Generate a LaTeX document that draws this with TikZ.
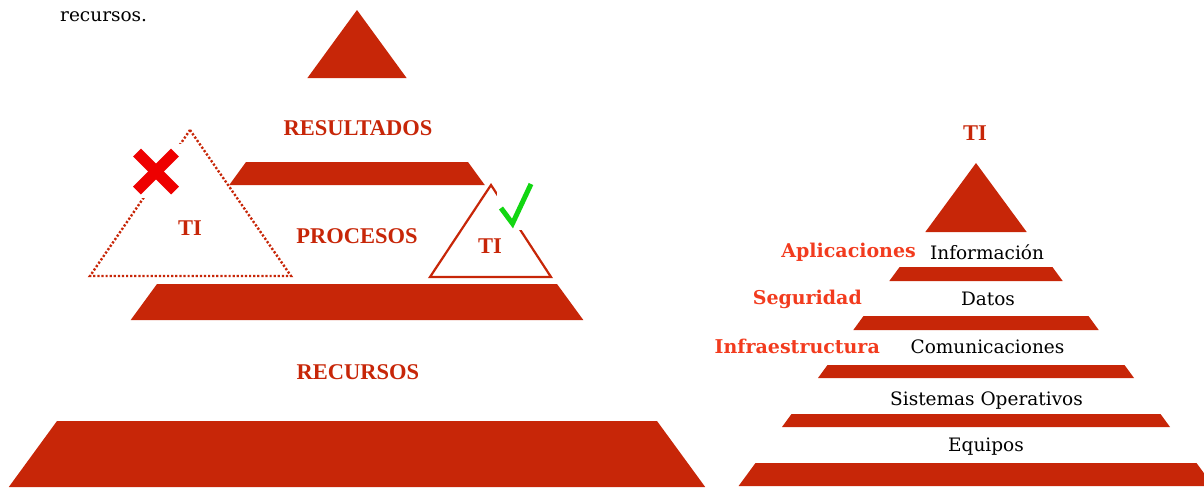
\documentclass[tikz,border=0pt]{standalone}
\usepackage{fontspec}
\setmainfont{DejaVu Serif}
\newfontfamily\libser{Liberation Serif}
\definecolor{dred}{HTML}{C72608}
\definecolor{lred}{HTML}{F23B1E}
\definecolor{xred}{HTML}{EE0000}
\definecolor{ckgreen}{HTML}{12D612}
\tikzset{
  band/.style={fill=dred},
  lbl/.style={font=\libser\bfseries\fontsize{22.5}{26}\selectfont, text=dred, inner sep=0pt, anchor=base},
  rlbl/.style={font=\bfseries\fontsize{19}{22}\selectfont, text=lred, inner sep=0pt, anchor=base east},
  blk/.style={font=\fontsize{18.5}{22}\selectfont, text=black, inner sep=0pt, anchor=base},
}
\begin{document}
\begin{tikzpicture}[x=1pt,y=-1pt]
\useasboundingbox (0,0) rectangle (1204,488);
% intro text fragment
\node[font=\fontsize{18.5}{22}\selectfont, inner sep=0pt, anchor=base west] (intro) at (60,21) {recursos.};
% ---------- left pyramid ----------
\fill[band] (357,10) -- (406.6,78) -- (307.4,78) -- cycle;
\fill[band] (246,162) -- (468,162) -- (484.75,185) -- (229.25,185) -- cycle;
\fill[band] (157,284) -- (557,284) -- (583.3,320) -- (130.7,320) -- cycle;
\fill[band] (57,421) -- (657,421) -- (705.2,487) -- (8.8,487) -- cycle;
\node[lbl] (res) at (358,135) {RESULTADOS};
\node[lbl] (proc) at (357,243) {PROCESOS};
\node[lbl] (recu) at (358,379) {RECURSOS};
% dotted TI triangle
\draw[dred, line width=2.4pt, dash pattern=on 2.2pt off 1.9pt] (190,130) -- (291,276) -- (90,276) -- cycle;
\node[lbl] (ti1) at (190,235) {TI};
% cross with white backing
\fill[white] (130,144) rectangle (183,198);
\draw[xred, line width=11pt] (137,152.5) -- (175,190.5);
\draw[xred, line width=11pt] (175,152.5) -- (137,190.5);
% solid TI triangle
\draw[dred, line width=2.2pt, line join=miter] (491,185) -- (551,277) -- (430,277) -- cycle;
\node[lbl] (ti2) at (490,253) {TI};
% check mark with white backing
\fill[white] (496.5,189) rectangle (538,230);
\draw[ckgreen, line width=5pt, line join=miter] (501,208) -- (512.5,223.5) -- (531,184);
% ---------- right pyramid ----------
\node[lbl] (ti3) at (975,140) {TI};
\fill[band] (976,163) -- (1026.7,232) -- (925.3,232) -- cycle;
\fill[band] (899.6,267) -- (1052.4,267) -- (1062.7,281) -- (889.3,281) -- cycle;
\fill[band] (863.5,316) -- (1088.5,316) -- (1098.7,330) -- (853.3,330) -- cycle;
\fill[band] (827.5,365) -- (1124.5,365) -- (1134,378) -- (818,378) -- cycle;
\fill[band] (791.5,414) -- (1160.5,414) -- (1170,427) -- (782,427) -- cycle;
\fill[band] (755.5,463) -- (1196.5,463) -- (1213.4,486) -- (738.6,486) -- cycle;
\node[blk] (info) at (987,259) {Información};
\node[blk] (datos) at (988,305) {Datos};
\node[blk] (comu) at (987.5,353) {Comunicaciones};
\node[blk] (so) at (986.5,405) {Sistemas Operativos};
\node[blk] (equi) at (986,451) {Equipos};
\node[rlbl] (apl) at (916,257) {Aplicaciones};
\node[rlbl] (seg) at (862,304) {Seguridad};
\node[rlbl] (infra) at (880,353) {Infraestructura};
\end{tikzpicture}
\end{document}
